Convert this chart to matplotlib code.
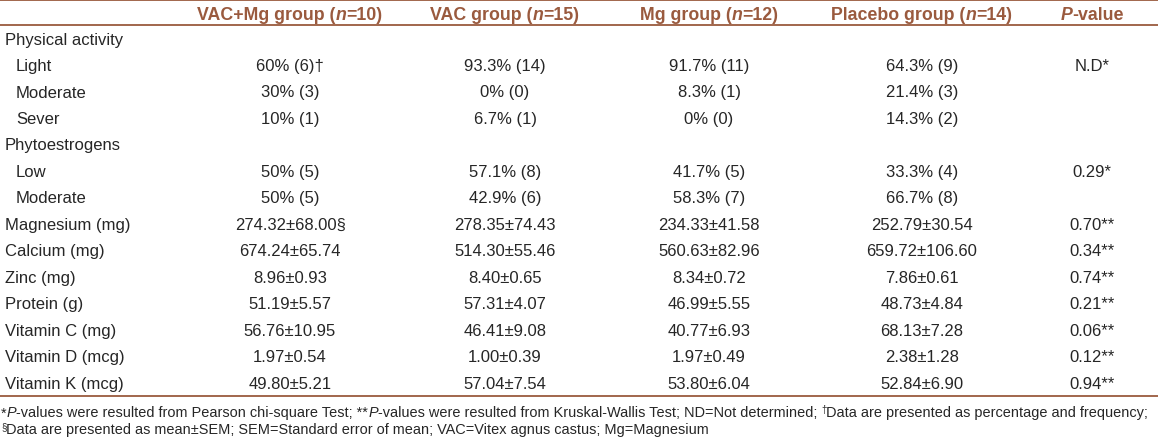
import matplotlib
matplotlib.use("Agg")
import matplotlib.pyplot as plt
from matplotlib import font_manager

# table content
header = ["VAC+Mg group", "VAC group", "Mg group", "Placebo group"]
group_n = [10, 15, 12, 14]
row_labels = ["Physical activity", "Light", "Moderate", "Sever",
              "Phytoestrogens", "Low", "Moderate",
              "Magnesium (mg)", "Calcium (mg)", "Zinc (mg)", "Protein (g)",
              "Vitamin C (mg)", "Vitamin D (mcg)", "Vitamin K (mcg)"]
indented = [0, 1, 1, 1, 0, 1, 1, 0, 0, 0, 0, 0, 0, 0]
vac_mg = ["", "60% (6)†", "30% (3)", "10% (1)", "", "50% (5)", "50% (5)",
          "274.32±68.00§", "674.24±65.74", "8.96±0.93", "51.19±5.57",
          "56.76±10.95", "1.97±0.54", "49.80±5.21"]
vac = ["", "93.3% (14)", "0% (0)", "6.7% (1)", "", "57.1% (8)", "42.9% (6)",
       "278.35±74.43", "514.30±55.46", "8.40±0.65", "57.31±4.07",
       "46.41±9.08", "1.00±0.39", "57.04±7.54"]
mg = ["", "91.7% (11)", "8.3% (1)", "0% (0)", "", "41.7% (5)", "58.3% (7)",
      "234.33±41.58", "560.63±82.96", "8.34±0.72", "46.99±5.55",
      "40.77±6.93", "1.97±0.49", "53.80±6.04"]
placebo = ["", "64.3% (9)", "21.4% (3)", "14.3% (2)", "", "33.3% (4)", "66.7% (8)",
           "252.79±30.54", "659.72±106.60", "7.86±0.61", "48.73±4.84",
           "68.13±7.28", "2.38±1.28", "52.84±6.90"]
pvals = ["", "N.D*", "", "", "", "0.29*", "", "0.70**", "0.34**", "0.74**",
         "0.21**", "0.06**", "0.12**", "0.94**"]

brown = "#9a5a3e"
ink = "#262626"

plain_font = "Liberation Sans"

W, H = 1158, 439
fig = plt.figure(figsize=(W / 100, H / 100), dpi=100)
ax = fig.add_axes([0, 0, 1, 1])
ax.set_xlim(0, W)
ax.set_ylim(H, 0)
ax.axis("off")
renderer = fig.canvas.get_renderer()


def runs(x, y, parts, ha="left", **kw):
    # draw a list of (text, style, weight, size, raise) runs side by side
    objs = []
    for txt, style, weight, size, dy in parts:
        t = ax.text(0, y + dy, txt, fontstyle=style, fontweight=weight,
                    fontsize=size, va="center_baseline", **kw)
        objs.append(t)
    widths = [t.get_window_extent(renderer).width for t in objs]
    total = sum(widths)
    start = x - total / 2 if ha == "center" else x
    for t, w in zip(objs, widths):
        t.set_x(start)
        start += w


# rules
for yy in (1, 26, 397):
    ax.plot([0, W], [yy, yy], color=brown, lw=1.3, solid_capstyle="butt")

# header
col_x = [290, 505, 709, 922]
hsize = 12.8
y_head = 14
for x, name, n in zip(col_x, header, group_n):
    runs(x, y_head, [(name + " (", "normal", "bold", hsize, 0),
                     ("n", "italic", "bold", hsize, 0),
                     ("=%d)" % n, "normal", "bold", hsize, 0)],
         ha="center", color=brown, family=plain_font)
runs(1092, y_head, [("P", "italic", "bold", hsize, 0),
                    ("-value", "normal", "bold", hsize, 0)],
     ha="center", color=brown, family=plain_font)

# body
bsize = 12
for i, lab in enumerate(row_labels):
    y = 40 + i * 26.5
    ax.text(16 if indented[i] else 5, y, lab, fontsize=bsize, family=plain_font,
            va="center", color=ink)
    for x, col in zip(col_x, [vac_mg, vac, mg, placebo]):
        ax.text(x, y, col[i], fontsize=bsize, family=plain_font, va="center",
                ha="center", color=ink)
    ax.text(1092, y, pvals[i], fontsize=bsize, family=plain_font, va="center",
            ha="center", color=ink)

# footnotes
fsize = 10.45
sup = 7
runs(1, 412, [("*", "normal", "normal", fsize, 0),
              ("P", "italic", "normal", fsize, 0),
              ("-values were resulted from Pearson chi-square Test; **", "normal", "normal", fsize, 0),
              ("P", "italic", "normal", fsize, 0),
              ("-values were resulted from Kruskal-Wallis Test; ND=Not determined; ", "normal", "normal", fsize, 0),
              ("†", "normal", "normal", sup, -3),
              ("Data are presented as percentage and frequency;", "normal", "normal", fsize, 0)],
     color=ink, family=plain_font)
runs(1, 429, [("§", "normal", "normal", sup, -3),
              ("Data are presented as mean±SEM; SEM=Standard error of mean; "
               "VAC=Vitex agnus castus; Mg=Magnesium", "normal", "normal", fsize, 0)],
     color=ink, family=plain_font)

fig.savefig("out.png", dpi=100)
